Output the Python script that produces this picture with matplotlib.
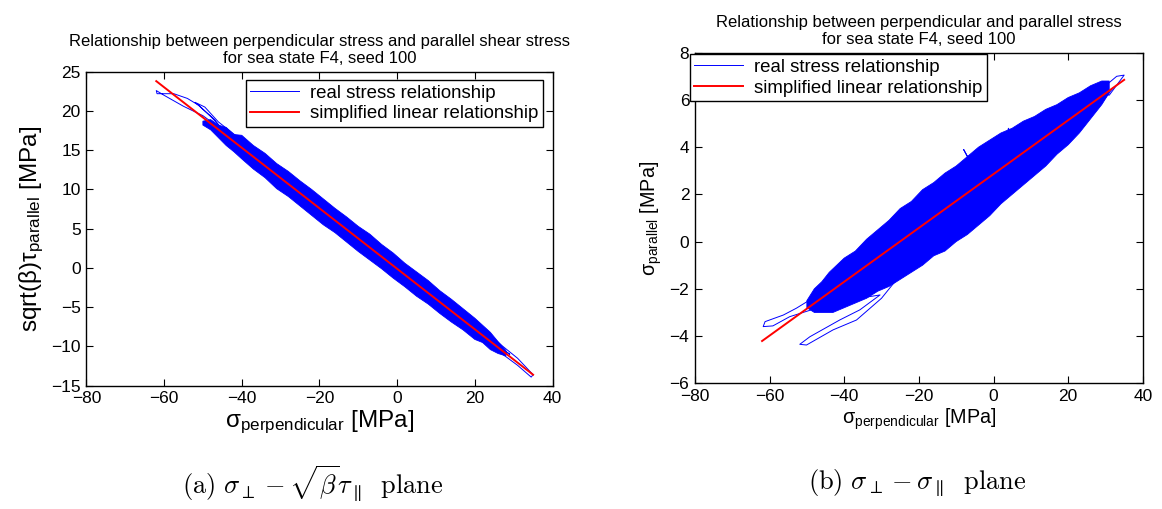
import matplotlib
matplotlib.use('Agg')
import matplotlib.pyplot as plt

plt.rcParams['font.family'] = ['Liberation Sans', 'DejaVu Sans']
plt.rcParams['mathtext.fontset'] = 'custom'
plt.rcParams['mathtext.rm'] = 'Liberation Sans'
plt.rcParams['mathtext.it'] = 'Liberation Sans:italic'

# --- (a) sigma_perp vs sqrt(beta)*tau_par ---
# outline of the dense core of the trajectory (upper edge left->right, lower edge back)
a_core_x = [-50, -48, -46, -44, -42, -40, -37, -34, -31, -28, -25, -22, -19, -16, -13, -10, -7, -4, -1, 2,
            5, 8, 11, 14, 17, 20, 22, 24, 26, 28,
            28, 26, 24, 22, 20, 17, 14, 11, 8, 5, 2, -1, -4, -7, -10, -13, -16, -19, -22, -25,
            -28, -31, -34, -37, -40, -42, -44, -46, -48, -50]
a_core_y = [18.7, 18.9, 18.2, 17.9, 17.0, 16.9, 15.6, 14.6, 13.3, 12.3, 11.1, 10.0, 8.8, 7.6, 6.5, 5.3, 4.3, 3.0, 1.9, 0.6,
            -0.5, -1.6, -2.9, -4.0, -5.2, -6.4, -7.3, -8.2, -9.4, -10.5,
            -11.2, -10.9, -10.4, -9.5, -9.1, -7.9, -6.9, -5.8, -4.6, -3.6, -2.4, -1.3, -0.1, 1.0, 2.1, 3.3, 4.5, 5.5, 6.7, 7.9,
            9.1, 10.1, 11.5, 12.6, 13.9, 14.8, 15.6, 16.6, 17.6, 18.2]
# loose excursions at both ends
a_trace_x = [-44, -48, -51, -54, -57.5, -61.8, -62, -60, -55, -50, -45, -47, -52, -49.5, -46,
             20, 24, 27, 31, 35, 34.5, 31, 28, 25, 22, 26, 29, 24]
a_trace_y = [17.2, 19.3, 20.7, 21.6, 22.2, 22.2, 22.6, 22.0, 20.6, 19.4, 17.6, 18.9, 21.1, 20.5, 18.6,
             -7.0, -8.6, -9.9, -11.5, -13.6, -13.9, -12.4, -11.3, -10.3, -9.4, -10.0, -11.0, -9.2]
a_fit_x = [-62, 35]
a_fit_y = [23.8, -13.6]

# --- (b) sigma_perp vs sigma_par ---
b_core_x = [-50, -48, -46, -44, -42, -40, -37, -34, -31, -28, -25, -22, -19, -16, -13, -10, -7, -4, -1, 2,
            5, 8, 11, 14, 17, 20, 23, 26, 29, 31,
            31, 29, 26, 23, 20, 17, 14, 11, 8, 5, 2, -1, -4, -7, -10, -13, -16, -19, -22, -25,
            -28, -31, -34, -37, -40, -43, -46, -48, -50]
b_core_y = [-2.5, -2.0, -1.7, -1.3, -1.0, -0.7, -0.4, 0.1, 0.5, 0.9, 1.4, 1.7, 2.2, 2.5, 2.9, 3.2, 3.6, 4.0, 4.3, 4.6,
            4.8, 5.1, 5.3, 5.6, 5.8, 6.1, 6.3, 6.6, 6.8, 6.8,
            6.3, 5.8, 5.2, 4.6, 4.1, 3.7, 3.2, 2.8, 2.4, 2.0, 1.6, 1.1, 0.7, 0.3, 0.0, -0.4, -0.6, -1.0, -1.3, -1.6,
            -1.9, -2.1, -2.4, -2.6, -2.8, -3.0, -3.0, -3.0, -2.8]
b_trace_x = [-46, -49.2, -52.8, -56.3, -61.2, -61.7, -59.1, -54.6, -49, -44,
             -30.4, -35.8, -41.2, -49.2, -51.9, -50.1, -43, -36.7, -30,
             -4, -8, 0, 4, 10, 14, 18, 22, 26, 30, 33, 35, 31, 27, 23, 29, 32]
b_trace_y = [-2.1, -2.47, -2.82, -3.11, -3.39, -3.6, -3.57, -3.18, -2.9, -2.6,
             -2.26, -2.89, -3.32, -4.03, -4.35, -4.38, -3.74, -3.32, -2.4,
             2.7, 3.9, 1.6, 4.8, 2.8, 4.3, 4.8, 5.9, 5.7, 6.6, 7.0, 7.05, 6.2, 6.3, 5.5, 5.9, 6.5]
b_fit_x = [-62, 35]
b_fit_y = [-4.21, 6.85]

blue = '#0000ff'
red = '#ff0000'

fig = plt.figure(figsize=(11.62, 5.09), dpi=100)
ax1 = fig.add_axes([0.0743, 0.2422, 0.4012, 0.6169])
ax2 = fig.add_axes([0.598, 0.247, 0.3855, 0.6495])

for ax in (ax1, ax2):
    ax.tick_params(direction='in', top=True, right=True, length=5, width=0.8,
                   labelsize=12.5, pad=4)
    for s in ax.spines.values():
        s.set_linewidth(1.0)

# panel (a)
ax1.fill(a_core_x, a_core_y, color=blue, lw=0.6)
ax1.plot(a_trace_x, a_trace_y, color=blue, lw=0.7, label='real stress relationship')
ax1.plot(a_fit_x, a_fit_y, color=red, lw=1.4, label='simplified linear relationship')
ax1.set_xlim(-80, 40)
ax1.set_ylim(-15, 25)
ax1.set_xticks(range(-80, 41, 20))
ax1.set_yticks(range(-15, 26, 5))
ax1.set_title('Relationship between perpendicular stress and parallel shear stress\n'
              'for sea state F4, seed 100', fontsize=12, pad=6)
ax1.set_xlabel(r'σ$_{\mathrm{perpendicular}}$ [MPa]', fontsize=17.5, labelpad=2)
ax1.set_ylabel(r'sqrt(β)τ$_{\mathrm{parallel}}$ [MPa]', fontsize=17.5, labelpad=4)
ax1.legend(loc='upper right', bbox_to_anchor=(0.4673, 0.8428), bbox_transform=fig.transFigure,
           borderaxespad=0, fontsize=13.4, fancybox=False, framealpha=1, edgecolor='black',
           handlelength=2.6, borderpad=0.25, labelspacing=0.2, handletextpad=0.6)

# panel (b)
ax2.fill(b_core_x, b_core_y, color=blue, lw=0.6)
ax2.plot(b_trace_x, b_trace_y, color=blue, lw=0.7, label='real stress relationship')
ax2.plot(b_fit_x, b_fit_y, color=red, lw=1.4, label='simplified linear relationship')
ax2.set_xlim(-80, 40)
ax2.set_ylim(-6, 8)
ax2.set_xticks(range(-80, 41, 20))
ax2.set_yticks(range(-6, 9, 2))
ax2.set_title('Relationship between perpendicular and parallel stress\n'
              'for sea state F4, seed 100', fontsize=12, pad=6)
ax2.set_xlabel(r'σ$_{\mathrm{perpendicular}}$ [MPa]', fontsize=14.2, labelpad=2)
ax2.set_ylabel(r'σ$_{\mathrm{parallel}}$ [MPa]', fontsize=14.2, labelpad=4)
leg2 = ax2.legend(loc='upper left', bbox_to_anchor=(0.5935, 0.8933), bbox_transform=fig.transFigure,
                  borderaxespad=0, fontsize=13.4, fancybox=False, framealpha=1, edgecolor='black',
                  handlelength=2.6, borderpad=0.25, labelspacing=0.2, handletextpad=0.6)
leg2.set_zorder(10)

# sub-captions
fig.text(0.2694, 1 - 483 / 509, r'$\mathrm{(a)}\ \sigma_{\perp} - \sqrt{\beta}\tau_{\parallel}\;\ \mathrm{plane}$',
         ha='center', va='center', fontsize=19, math_fontfamily='cm')
fig.text(0.7891, 1 - 483 / 509, r'$\mathrm{(b)}\ \sigma_{\perp} - \sigma_{\parallel}\;\ \mathrm{plane}$',
         ha='center', va='center', fontsize=19, math_fontfamily='cm')

fig.savefig('out.png', dpi=100)
